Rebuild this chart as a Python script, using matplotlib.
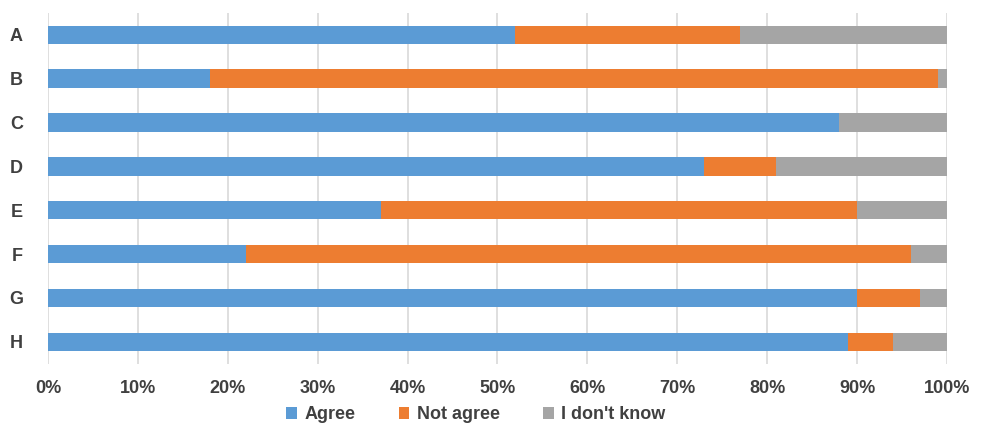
import numpy as np
import matplotlib
matplotlib.use("Agg")
import matplotlib.pyplot as plt
from matplotlib.ticker import PercentFormatter

# Données (en %)
categories = ["A", "B", "C", "D", "E", "F", "G", "H"]
agree = [52, 18, 88, 73, 37, 22, 90, 89]
not_agree = [25, 81, 0, 8, 53, 74, 7, 5]
dont_know = [23, 1, 12, 19, 10, 4, 3, 6]
series_names = ["Agree", "Not agree", "I don't know"]
colors = ["#5B9BD5", "#ED7D31", "#A5A5A5"]

plt.rcParams["font.family"] = ["Liberation Sans", "DejaVu Sans"]

fig = plt.figure(figsize=(9.87, 4.29), dpi=100)
ax = fig.add_axes([0.0486, 0.152, 0.9109, 0.818])

y = np.arange(len(categories))
left = np.zeros(len(categories))
for vals, name, col in zip([agree, not_agree, dont_know], series_names, colors):
    ax.barh(y, vals, left=left, height=0.42, color=col, label=name, zorder=3)
    left += np.array(vals)

ax.set_xlim(0, 100)
ax.set_ylim(len(categories) - 0.5, -0.5)
ax.set_yticks(y)
ax.set_yticklabels(categories, fontsize=13, fontweight="bold", color="#404040")
ax.set_xticks(np.arange(0, 101, 10))
ax.xaxis.set_major_formatter(PercentFormatter(decimals=0))
ax.tick_params(axis="x", labelsize=13, colors="#404040", length=0, pad=12)
ax.tick_params(axis="y", length=0, pad=18)
for lab in ax.get_xticklabels():
    lab.set_fontweight("bold")

ax.grid(axis="x", color="#D9D9D9", linewidth=1.2, zorder=0)
for s in ax.spines.values():
    s.set_visible(False)

handles, labels = ax.get_legend_handles_labels()
leg = fig.legend(handles, labels, loc="center", bbox_to_anchor=(0.482, 0.033), ncol=3,
                 frameon=False, fontsize=13, handlelength=0.6, handleheight=0.6,
                 handletextpad=0.4, columnspacing=2.4, borderpad=0)
for t in leg.get_texts():
    t.set_fontweight("bold")
    t.set_color("#404040")

fig.savefig("out.png", dpi=100)
